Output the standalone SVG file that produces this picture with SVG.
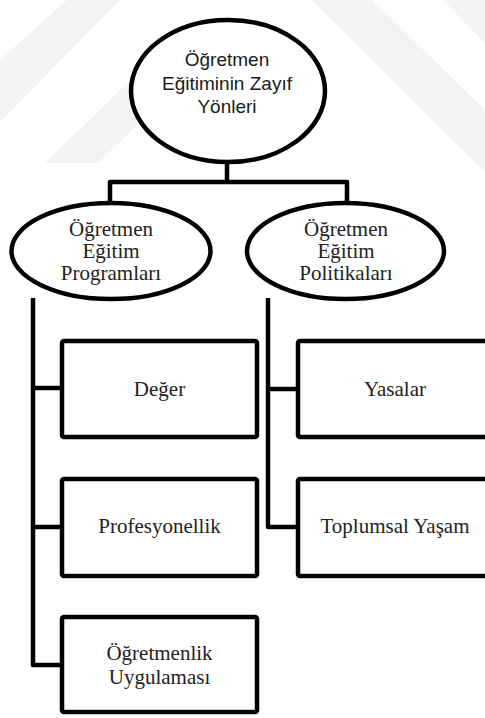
<svg xmlns="http://www.w3.org/2000/svg" width="485" height="718" viewBox="0 0 485 718">
<style>
.wm{fill:#f3f3f3;stroke:none}
.shape{fill:#ffffff;stroke:#000000;stroke-width:4.5;stroke-linejoin:round}
.conn{fill:none;stroke:#000000;stroke-width:4.5;stroke-linejoin:round;stroke-linecap:butt}
.sans{font-family:"Liberation Sans",Arial,sans-serif;font-size:19px;fill:#1a1a1a;text-anchor:middle}
.serif{font-family:"Liberation Serif","Times New Roman",serif;font-size:21px;font-weight:normal;fill:#222222;text-anchor:middle}
</style>
<rect width="485" height="718" fill="#ffffff"/>
<g id="watermark">
<polygon class="wm" points="67,0 120,0 0,122 0,60"/>
<polygon class="wm" points="45,163 98,163 185,78 135,76"/>
<polygon class="wm" points="312,0 372,0 485,110 485,172"/>
<polygon class="wm" points="443,0 485,0 485,43"/>
</g>
<g id="connectors">
<path class="conn" d="M227,162 V183"/>
<path class="conn" d="M110,203 V182 H347 V203"/>
<path class="conn" d="M33,298 V665 H62"/>
<path class="conn" d="M33,388 H62"/>
<path class="conn" d="M33,527 H62"/>
<path class="conn" d="M268,298 V527 H298"/>
<path class="conn" d="M268,389 H298"/>
</g>
<g id="root">
<ellipse class="shape" cx="228" cy="91" rx="97" ry="71"/>
<text class="sans" x="227" y="66">Öğretmen</text>
<text class="sans" x="227" y="90">Eğitiminin Zayıf</text>
<text class="sans" x="227" y="113">Yönleri</text>
</g>
<g id="programlar">
<ellipse class="shape" cx="111" cy="251" rx="99.5" ry="48"/>
<text class="serif" x="111" y="236">Öğretmen</text>
<text class="serif" x="111" y="258">Eğitim</text>
<text class="serif" x="111" y="280">Programları</text>
</g>
<g id="politikalar">
<ellipse class="shape" cx="345.5" cy="251" rx="98.5" ry="48"/>
<text class="serif" x="346" y="236">Öğretmen</text>
<text class="serif" x="346" y="258">Eğitim</text>
<text class="serif" x="346" y="280">Politikaları</text>
</g>
<g id="deger">
<rect class="shape" x="62" y="341" width="195" height="96" rx="2"/>
<text class="serif" x="159.5" y="396">Değer</text>
</g>
<g id="profesyonellik">
<rect class="shape" x="62" y="479" width="195" height="97" rx="2"/>
<text class="serif" x="159.5" y="533">Profesyonellik</text>
</g>
<g id="uygulama">
<rect class="shape" x="62" y="617" width="195" height="95" rx="2"/>
<text class="serif" x="159.5" y="660">Öğretmenlik</text>
<text class="serif" x="159.5" y="684">Uygulaması</text>
</g>
<g id="yasalar">
<rect class="shape" x="298" y="341" width="195" height="96" rx="2"/>
<text class="serif" x="395" y="396">Yasalar</text>
</g>
<g id="toplumsal">
<rect class="shape" x="298" y="479" width="195" height="97" rx="2"/>
<text class="serif" x="395" y="533">Toplumsal Yaşam</text>
</g>
</svg>
